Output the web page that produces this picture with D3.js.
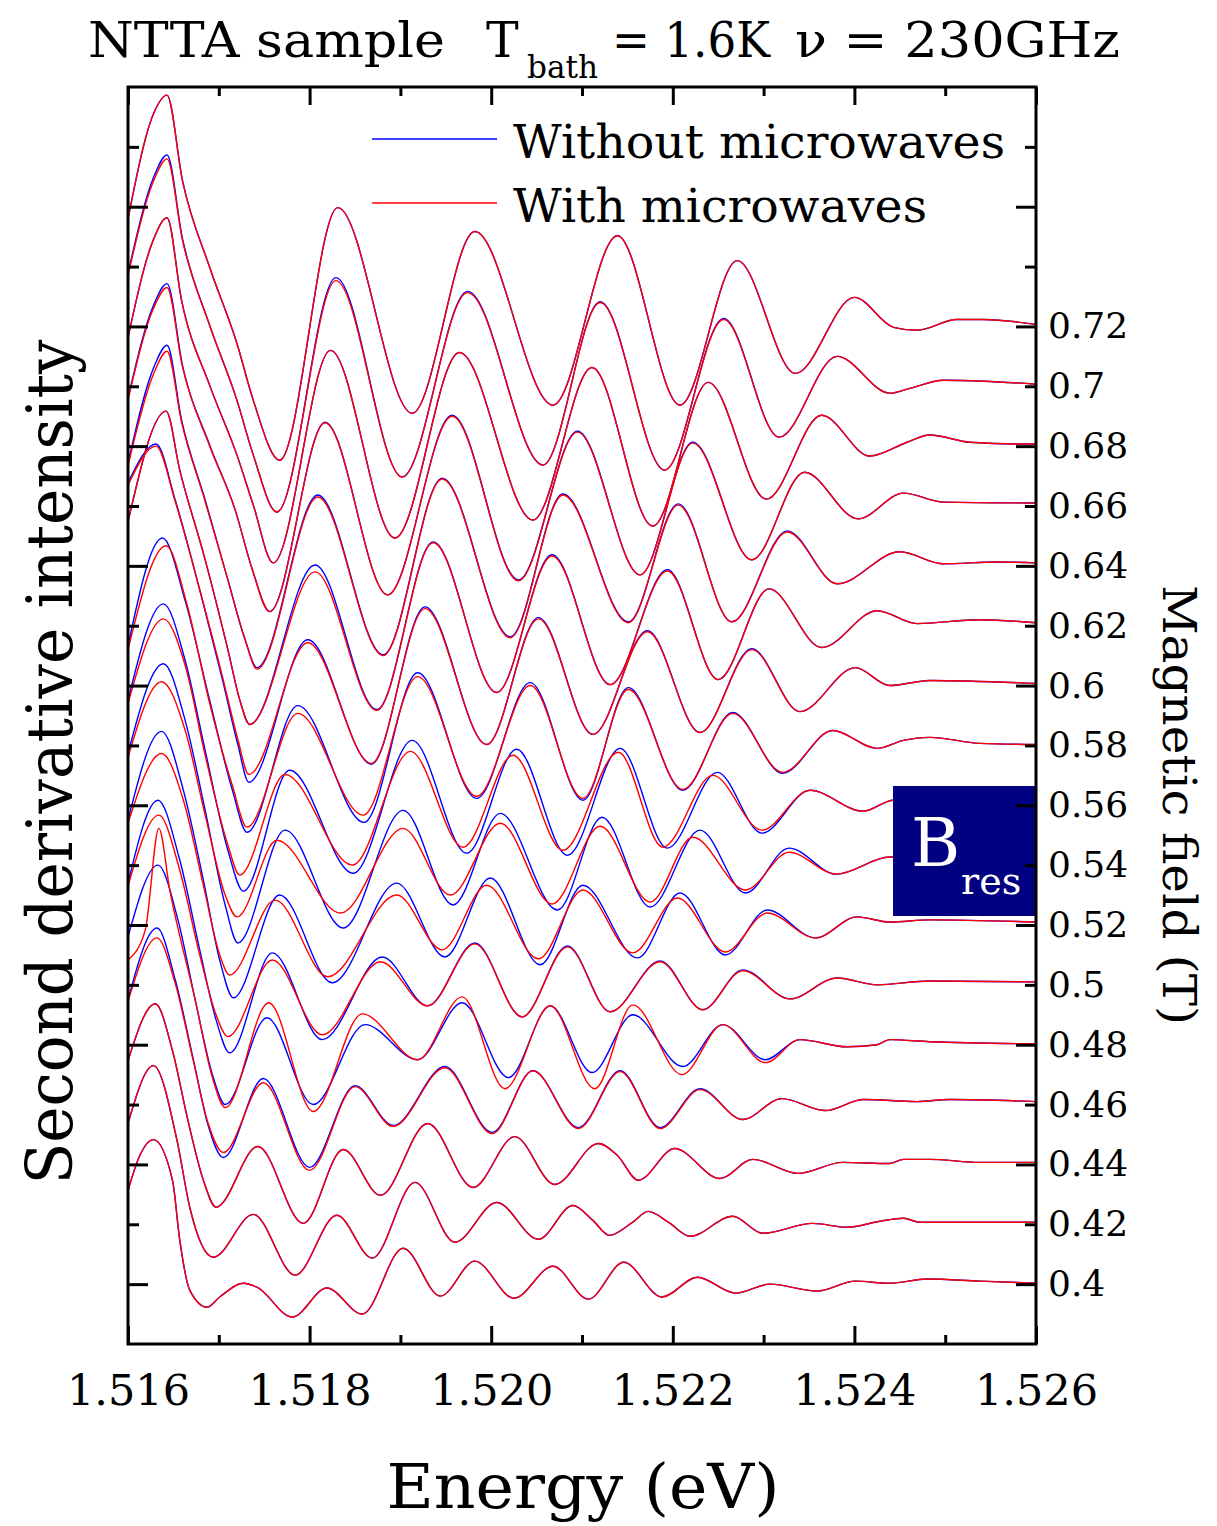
<!DOCTYPE html>
<html>
<head>
<meta charset="utf-8">
<script src="https://cdn.jsdelivr.net/npm/d3@7"></script>
<style>
  html, body { margin: 0; padding: 0; background: #fff; }
  svg { display: block; }
  text { font-family: "DejaVu Serif", "Liberation Serif", serif; fill: #000; }
</style>
</head>
<body>
<svg id="chart" width="1217" height="1526"></svg>
<script>
// ---- axis values ----
const energyMajor = [1.516, 1.518, 1.520, 1.522, 1.524, 1.526];
const energyMinor = [1.517, 1.519, 1.521, 1.523, 1.525];
const fieldMajor = [0.40, 0.44, 0.48, 0.52, 0.56, 0.60, 0.64, 0.68, 0.72, 0.76];
const fieldMinor = [0.42, 0.46, 0.50, 0.54, 0.58, 0.62, 0.66, 0.70, 0.74, 0.78];
const fieldLabelValues = [0.40, 0.42, 0.44, 0.46, 0.48, 0.50, 0.52, 0.54, 0.56, 0.58, 0.60, 0.62, 0.64, 0.66, 0.68, 0.70, 0.72];
const fieldLabels = ["0.4", "0.42", "0.44", "0.46", "0.48", "0.5", "0.52", "0.54", "0.56", "0.58", "0.6", "0.62", "0.64", "0.66", "0.68", "0.7", "0.72"];

// ---- spectra: [energy (eV), second-derivative intensity (a.u.)] ----
// off = without microwaves, on = with microwaves; each spectrum sits at its magnetic field
const off072 = [[1.51600,3.60],[1.51628,7.10],[1.51643,7.73],[1.51660,4.87],[1.51690,1.97],[1.51720,-0.57],[1.51738,-2.47],[1.51767,-4.47],[1.51831,3.97],[1.51913,-2.90],[1.51982,3.17],[1.52068,-2.63],[1.52139,3.03],[1.52208,-2.63],[1.52271,2.20],[1.52335,-1.57],[1.52400,0.97],[1.52443,-0.03],[1.52469,-0.13],[1.52513,0.23],[1.52542,0.23],[1.52600,0.07]];
const on072 = off072;

const off070 = [[1.51600,3.77],[1.51628,6.97],[1.51643,7.73],[1.51660,4.93],[1.51690,2.03],[1.51720,-0.47],[1.51738,-2.30],[1.51764,-4.20],[1.51829,3.63],[1.51902,-3.03],[1.51974,3.17],[1.52057,-2.63],[1.52120,2.83],[1.52191,-2.80],[1.52256,2.27],[1.52317,-1.70],[1.52381,1.00],[1.52439,-0.23],[1.52461,-0.07],[1.52498,0.20],[1.52542,0.17],[1.52600,0.07]];
const on070 = [[1.51600,3.70],[1.51628,6.85],[1.51643,7.60],[1.51660,4.88],[1.51690,2.03],[1.51720,-0.47],[1.51738,-2.30],[1.51764,-4.20],[1.51829,3.53],[1.51902,-3.03],[1.51974,3.13],[1.52057,-2.63],[1.52120,2.80],[1.52191,-2.80],[1.52256,2.23],[1.52317,-1.70],[1.52381,1.00],[1.52439,-0.23],[1.52461,-0.07],[1.52498,0.20],[1.52542,0.17],[1.52600,0.07]];

const off068 = [[1.51600,3.63],[1.51628,6.90],[1.51643,7.63],[1.51659,4.87],[1.51690,2.03],[1.51720,-0.30],[1.51738,-1.97],[1.51760,-3.90],[1.51823,3.20],[1.51894,-3.07],[1.51965,3.13],[1.52046,-2.47],[1.52111,2.63],[1.52178,-2.67],[1.52239,2.13],[1.52303,-1.77],[1.52364,1.03],[1.52417,-0.33],[1.52458,0.13],[1.52483,0.37],[1.52527,0.13],[1.52579,0.07],[1.52600,0.07]];
const on068 = off068;

const off066 = [[1.51600,3.60],[1.51628,6.70],[1.51643,7.43],[1.51660,4.70],[1.51690,2.03],[1.51718,-0.13],[1.51737,-2.13],[1.51756,-3.53],[1.51817,2.80],[1.51886,-2.97],[1.51957,3.03],[1.52030,-2.47],[1.52095,2.50],[1.52164,-2.30],[1.52222,2.13],[1.52287,-1.80],[1.52345,1.13],[1.52404,-0.43],[1.52454,0.43],[1.52498,0.13],[1.52600,0.10]];
const on066 = [[1.51600,3.55],[1.51628,6.60],[1.51643,7.30],[1.51660,4.65],[1.51690,2.00],[1.51718,-0.13],[1.51737,-2.13],[1.51756,-3.53],[1.51817,2.78],[1.51886,-2.97],[1.51957,3.00],[1.52030,-2.50],[1.52095,2.47],[1.52164,-2.30],[1.52222,2.10],[1.52287,-1.80],[1.52345,1.13],[1.52404,-0.43],[1.52454,0.43],[1.52498,0.13],[1.52600,0.10]];

const off064 = [[1.51600,3.43],[1.51628,6.60],[1.51643,7.37],[1.51659,4.87],[1.51685,2.20],[1.51710,-0.47],[1.51729,-2.47],[1.51742,-3.40],[1.51809,2.37],[1.51881,-2.97],[1.51946,2.93],[1.52021,-2.37],[1.52079,2.40],[1.52151,-1.87],[1.52206,2.07],[1.52265,-1.87],[1.52326,1.17],[1.52381,-0.60],[1.52450,0.47],[1.52498,0.07],[1.52557,0.13],[1.52600,0.10]];
const on064 = [[1.51600,3.35],[1.51628,6.40],[1.51643,7.17],[1.51659,4.80],[1.51685,2.15],[1.51710,-0.47],[1.51729,-2.47],[1.51742,-3.45],[1.51809,2.30],[1.51881,-3.00],[1.51946,2.90],[1.52021,-2.40],[1.52079,2.37],[1.52151,-1.90],[1.52206,2.03],[1.52265,-1.87],[1.52326,1.13],[1.52381,-0.60],[1.52450,0.47],[1.52498,0.07],[1.52557,0.13],[1.52600,0.10]];

const off062 = [[1.51600,3.47],[1.51642,7.17],[1.51657,5.20],[1.51685,2.20],[1.51710,-0.80],[1.51723,-2.47],[1.51734,-3.30],[1.51806,2.03],[1.51874,-2.80],[1.51936,2.80],[1.52006,-2.23],[1.52067,2.37],[1.52131,-1.97],[1.52194,1.87],[1.52250,-1.80],[1.52306,1.23],[1.52364,-0.73],[1.52425,0.50],[1.52469,0.07],[1.52538,0.20],[1.52600,0.10]];
const on062 = [[1.51600,3.47],[1.51642,7.17],[1.51657,5.20],[1.51685,2.20],[1.51710,-0.80],[1.51723,-2.47],[1.51734,-3.30],[1.51806,1.80],[1.51874,-2.83],[1.51936,2.77],[1.52006,-2.23],[1.52067,2.33],[1.52131,-1.97],[1.52194,1.83],[1.52250,-1.80],[1.52306,1.23],[1.52364,-0.73],[1.52425,0.50],[1.52469,0.07],[1.52538,0.20],[1.52600,0.10]];

const off060 = [[1.51600,6.77],[1.51631,8.07],[1.51652,6.20],[1.51679,3.20],[1.51704,0.20],[1.51721,-1.97],[1.51733,-3.23],[1.51798,1.53],[1.51868,-2.63],[1.51927,2.63],[1.51995,-1.97],[1.52052,2.27],[1.52112,-1.63],[1.52172,1.83],[1.52230,-1.57],[1.52287,1.23],[1.52340,-0.87],[1.52401,0.60],[1.52439,0.00],[1.52483,0.17],[1.52600,0.07]];
const on060 = [[1.51600,6.70],[1.51631,8.00],[1.51652,6.15],[1.51679,3.20],[1.51704,0.30],[1.51721,-1.80],[1.51733,-2.97],[1.51798,1.43],[1.51868,-2.60],[1.51927,2.57],[1.51995,-1.97],[1.52052,2.23],[1.52112,-1.63],[1.52172,1.80],[1.52230,-1.57],[1.52287,1.20],[1.52340,-0.87],[1.52401,0.60],[1.52439,0.00],[1.52483,0.17],[1.52600,0.07]];

const off058 = [[1.51600,3.33],[1.51638,6.93],[1.51663,4.83],[1.51690,1.50],[1.51715,-1.50],[1.51731,-2.90],[1.51787,1.33],[1.51860,-2.57],[1.51919,2.43],[1.51984,-1.77],[1.52043,2.10],[1.52101,-1.83],[1.52151,1.93],[1.52211,-1.50],[1.52266,1.10],[1.52321,-0.93],[1.52376,0.50],[1.52425,-0.10],[1.52454,0.17],[1.52483,0.27],[1.52538,0.07],[1.52600,0.03]];
const on058 = [[1.51600,3.20],[1.51642,6.67],[1.51665,4.70],[1.51690,1.40],[1.51715,-1.35],[1.51731,-2.73],[1.51787,1.07],[1.51859,-2.33],[1.51919,2.30],[1.51984,-1.70],[1.52043,2.00],[1.52101,-1.77],[1.52151,1.87],[1.52211,-1.47],[1.52266,1.07],[1.52321,-0.90],[1.52376,0.50],[1.52425,-0.10],[1.52454,0.17],[1.52483,0.27],[1.52538,0.07],[1.52600,0.03]];

const off056 = [[1.51600,3.50],[1.51639,6.73],[1.51663,4.83],[1.51685,1.83],[1.51710,-1.50],[1.51727,-2.87],[1.51778,1.17],[1.51848,-2.27],[1.51913,2.17],[1.51973,-1.60],[1.52028,1.87],[1.52084,-1.67],[1.52142,1.90],[1.52194,-1.43],[1.52249,1.10],[1.52298,-0.93],[1.52351,0.50],[1.52410,-0.20],[1.52443,0.17],[1.52505,0.00],[1.52600,0.00]];
const on056 = [[1.51600,3.40],[1.51639,6.23],[1.51663,4.67],[1.51685,1.67],[1.51710,-1.33],[1.51723,-2.33],[1.51773,1.03],[1.51847,-2.00],[1.51911,1.80],[1.51969,-1.40],[1.52024,1.67],[1.52079,-1.50],[1.52140,1.77],[1.52189,-1.40],[1.52244,1.00],[1.52298,-0.83],[1.52351,0.50],[1.52410,-0.20],[1.52443,0.17],[1.52505,0.00],[1.52600,0.00]];

const off054 = [[1.51600,3.73],[1.51639,6.73],[1.51663,4.83],[1.51685,1.83],[1.51707,-1.33],[1.51721,-2.60],[1.51773,1.17],[1.51837,-2.10],[1.51903,1.83],[1.51958,-1.33],[1.52010,1.73],[1.52073,-1.50],[1.52122,1.60],[1.52175,-1.40],[1.52230,1.17],[1.52280,-0.93],[1.52328,0.57],[1.52380,-0.30],[1.52439,0.27],[1.52505,0.00],[1.52600,0.00]];
const on054 = [[1.51600,3.60],[1.51637,6.13],[1.51663,4.50],[1.51685,1.67],[1.51707,-1.00],[1.51720,-1.73],[1.51764,0.83],[1.51834,-1.60],[1.51903,1.23],[1.51955,-1.00],[1.52010,1.40],[1.52067,-1.30],[1.52120,1.30],[1.52175,-1.23],[1.52222,0.93],[1.52280,-0.83],[1.52328,0.43],[1.52380,-0.30],[1.52439,0.27],[1.52505,0.00],[1.52600,0.00]];

const off052 = [[1.51600,3.50],[1.51637,6.47],[1.51661,4.50],[1.51683,1.50],[1.51701,-1.17],[1.51716,-2.43],[1.51767,1.00],[1.51825,-1.93],[1.51896,1.40],[1.51949,-1.07],[1.51999,1.57],[1.52054,-1.33],[1.52101,1.33],[1.52161,-1.10],[1.52208,1.07],[1.52258,-1.00],[1.52304,0.50],[1.52357,-0.43],[1.52403,0.27],[1.52439,0.10],[1.52483,0.17],[1.52600,0.10]];
const on052 = [[1.51600,3.40],[1.51637,5.73],[1.51661,4.17],[1.51683,1.33],[1.51701,-1.00],[1.51712,-1.67],[1.51762,0.83],[1.51820,-1.73],[1.51896,1.00],[1.51946,-0.83],[1.51995,1.33],[1.52052,-1.13],[1.52101,1.17],[1.52156,-0.93],[1.52205,0.90],[1.52258,-0.90],[1.52304,0.40],[1.52357,-0.43],[1.52403,0.27],[1.52439,0.10],[1.52483,0.17],[1.52600,0.10]];

const off050 = [[1.51600,3.40],[1.51633,6.17],[1.51657,4.17],[1.51679,1.17],[1.51697,-1.17],[1.51712,-2.27],[1.51759,1.07],[1.51814,-1.83],[1.51880,0.93],[1.51930,-0.70],[1.51982,1.40],[1.52034,-1.07],[1.52084,1.30],[1.52131,-0.90],[1.52186,0.80],[1.52233,-0.83],[1.52277,0.50],[1.52329,-0.47],[1.52381,0.23],[1.52425,0.00],[1.52483,0.13],[1.52600,0.10]];
const on050 = [[1.51600,3.30],[1.51634,5.67],[1.51657,3.83],[1.51679,1.00],[1.51697,-1.00],[1.51710,-1.73],[1.51759,0.83],[1.51814,-1.67],[1.51878,0.77],[1.51930,-0.70],[1.51982,1.37],[1.52034,-1.07],[1.52084,1.27],[1.52131,-0.90],[1.52186,0.77],[1.52233,-0.83],[1.52277,0.47],[1.52329,-0.47],[1.52381,0.23],[1.52425,0.00],[1.52483,0.13],[1.52600,0.10]];

const off048 = [[1.51600,3.60],[1.51633,6.00],[1.51655,4.17],[1.51674,1.50],[1.51693,-1.00],[1.51707,-2.00],[1.51753,0.90],[1.51804,-2.00],[1.51861,0.67],[1.51919,-0.50],[1.51968,1.40],[1.52019,-1.10],[1.52065,1.30],[1.52111,-0.93],[1.52156,1.00],[1.52211,-0.73],[1.52255,0.67],[1.52302,-0.50],[1.52340,0.17],[1.52392,-0.07],[1.52425,0.00],[1.52439,0.17],[1.52483,0.10],[1.52600,0.03]];
const on048 = [[1.51600,2.83],[1.51619,3.83],[1.51634,7.23],[1.51646,5.17],[1.51674,1.50],[1.51693,-1.10],[1.51707,-2.10],[1.51755,1.40],[1.51804,-2.23],[1.51858,1.03],[1.51919,-0.50],[1.51968,1.60],[1.52015,-1.47],[1.52065,1.30],[1.52114,-1.47],[1.52156,1.33],[1.52210,-1.00],[1.52255,0.67],[1.52302,-0.60],[1.52340,0.17],[1.52392,-0.07],[1.52425,0.00],[1.52439,0.17],[1.52483,0.10],[1.52600,0.03]];

const off046 = [[1.51600,3.50],[1.51632,5.90],[1.51652,4.17],[1.51672,1.50],[1.51688,-0.67],[1.51705,-1.77],[1.51749,0.87],[1.51800,-2.10],[1.51850,0.63],[1.51892,-0.70],[1.51949,1.27],[1.52001,-0.93],[1.52046,1.13],[1.52096,-0.77],[1.52142,1.13],[1.52186,-0.77],[1.52230,0.53],[1.52277,-0.50],[1.52320,0.20],[1.52368,-0.20],[1.52410,0.17],[1.52469,0.10],[1.52505,0.17],[1.52600,0.10]];
const on046 = [[1.51600,3.45],[1.51632,5.57],[1.51652,4.05],[1.51672,1.45],[1.51688,-0.60],[1.51705,-1.60],[1.51749,0.73],[1.51800,-2.20],[1.51850,0.60],[1.51892,-0.73],[1.51949,1.23],[1.52001,-0.97],[1.52046,1.13],[1.52096,-0.80],[1.52142,1.10],[1.52186,-0.80],[1.52230,0.50],[1.52277,-0.50],[1.52320,0.20],[1.52368,-0.20],[1.52410,0.17],[1.52469,0.10],[1.52505,0.17],[1.52600,0.10]];

const off044 = [[1.51600,3.47],[1.51630,5.37],[1.51649,3.80],[1.51666,1.47],[1.51683,-0.53],[1.51697,-1.43],[1.51743,0.60],[1.51793,-1.97],[1.51837,0.50],[1.51878,-1.03],[1.51930,1.37],[1.51980,-0.77],[1.52026,0.93],[1.52070,-0.67],[1.52118,0.70],[1.52139,0.30],[1.52162,-0.53],[1.52202,0.53],[1.52252,-0.47],[1.52288,0.17],[1.52338,-0.30],[1.52387,0.07],[1.52439,0.03],[1.52454,0.17],[1.52483,0.17],[1.52538,0.07],[1.52600,0.07]];
const on044 = off044;

const off042 = [[1.51600,3.37],[1.51628,5.30],[1.51654,2.80],[1.51668,0.57],[1.51694,-1.10],[1.51738,0.33],[1.51784,-1.70],[1.51830,0.30],[1.51869,-1.13],[1.51916,1.40],[1.51960,-0.60],[1.52006,0.73],[1.52052,-0.50],[1.52090,0.63],[1.52112,0.13],[1.52130,-0.37],[1.52156,0.07],[1.52173,0.43],[1.52195,0.07],[1.52219,-0.40],[1.52266,0.27],[1.52299,-0.30],[1.52354,0.03],[1.52392,-0.10],[1.52428,0.10],[1.52454,0.20],[1.52472,0.07],[1.52600,0.07]];
const on042 = off042;

const off040 = [[1.51600,3.13],[1.51613,4.30],[1.51628,4.83],[1.51649,3.47],[1.51657,1.47],[1.51668,-0.20],[1.51687,-0.77],[1.51701,-0.43],[1.51727,0.03],[1.51742,-0.10],[1.51781,-1.10],[1.51819,-0.13],[1.51858,-1.00],[1.51903,1.20],[1.51944,-0.40],[1.51982,0.77],[1.52025,-0.47],[1.52068,0.60],[1.52107,-0.50],[1.52146,0.73],[1.52188,-0.43],[1.52227,0.23],[1.52269,-0.30],[1.52307,0.00],[1.52359,-0.23],[1.52401,0.10],[1.52439,0.03],[1.52480,0.17],[1.52538,0.10],[1.52600,0.03]];
const on040 = off040;

const spectra = [
  { field: 0.40, off: off040, on: on040 },
  { field: 0.42, off: off042, on: on042 },
  { field: 0.44, off: off044, on: on044 },
  { field: 0.46, off: off046, on: on046 },
  { field: 0.48, off: off048, on: on048 },
  { field: 0.50, off: off050, on: on050 },
  { field: 0.52, off: off052, on: on052 },
  { field: 0.54, off: off054, on: on054 },
  { field: 0.56, off: off056, on: on056 },
  { field: 0.58, off: off058, on: on058 },
  { field: 0.60, off: off060, on: on060 },
  { field: 0.62, off: off062, on: on062 },
  { field: 0.64, off: off064, on: on064 },
  { field: 0.66, off: off066, on: on066 },
  { field: 0.68, off: off068, on: on068 },
  { field: 0.70, off: off070, on: on070 },
  { field: 0.72, off: off072, on: on072 }
];

// one intensity unit spans 0.01 T of the stacking axis
const intensityUnit = 0.01;

// ---- layout ----
const plot = { left: 128, right: 1036, top: 87, bottom: 1344 };
const colorOff = "#0000ff", colorOn = "#ff0000";

const svg = d3.select("#chart");

const x = d3.scaleLinear().domain([1.516, 1.526]).range([plot.left, plot.right]);
const y = d3.scaleLinear().domain([0.38, 0.80]).range([plot.bottom, plot.top]);

svg.append("defs").append("clipPath").attr("id", "plotClip")
  .append("rect")
  .attr("x", plot.left).attr("y", plot.top)
  .attr("width", plot.right - plot.left).attr("height", plot.bottom - plot.top);

// ---- spectra ----
const curves = svg.append("g").attr("clip-path", "url(#plotClip)");
function lineFor(field) {
  return d3.line()
    .curve(d3.curveMonotoneX)
    .x(d => x(d[0]))
    .y(d => y(field + d[1] * intensityUnit));
}
curves.append("g").selectAll("path").data(spectra).join("path")
  .attr("d", s => lineFor(s.field)(s.off))
  .attr("fill", "none").attr("stroke", colorOff).attr("stroke-width", 1.4);
curves.append("g").selectAll("path").data(spectra).join("path")
  .attr("d", s => lineFor(s.field)(s.on))
  .attr("fill", "none").attr("stroke", colorOn).attr("stroke-width", 1.4);

// ---- resonance marker ----
const bres = svg.append("g");
bres.append("rect")
  .attr("x", 893).attr("y", 786).attr("width", plot.right - 893).attr("height", 130)
  .attr("fill", "#000080");
bres.append("text").attr("x", 911).attr("y", 866)
  .attr("font-size", 67).style("fill", "#fff").text("B");
bres.append("text").attr("x", 961).attr("y", 894)
  .attr("font-size", 38).style("fill", "#fff").text("res");

// ---- axes (ticks point inward) ----
function styleAxis(g) {
  g.select(".domain").remove();
  g.selectAll(".tick line").attr("stroke", "#000").attr("stroke-width", 3);
}
function noLabels(g) { g.selectAll(".tick text").remove(); }

// bottom
svg.append("g").attr("transform", `translate(0,${plot.bottom})`)
  .call(d3.axisBottom(x).tickValues(energyMajor).tickSize(-18).tickFormat(""))
  .call(styleAxis).call(noLabels);
svg.append("g").attr("transform", `translate(0,${plot.bottom})`)
  .call(d3.axisBottom(x).tickValues(energyMinor).tickSize(-9).tickFormat(""))
  .call(styleAxis).call(noLabels);
svg.append("g").attr("transform", `translate(0,${plot.bottom})`)
  .call(d3.axisBottom(x).tickValues(energyMajor).tickSize(0).tickPadding(30).tickFormat(d3.format(".3f")))
  .call(g => g.select(".domain").remove())
  .call(g => g.selectAll(".tick text").attr("font-size", 43).style("font-family", '"DejaVu Serif", serif'));

// top
svg.append("g").attr("transform", `translate(0,${plot.top})`)
  .call(d3.axisTop(x).tickValues(energyMajor).tickSize(-18).tickFormat(""))
  .call(styleAxis).call(noLabels);
svg.append("g").attr("transform", `translate(0,${plot.top})`)
  .call(d3.axisTop(x).tickValues(energyMinor).tickSize(-9).tickFormat(""))
  .call(styleAxis).call(noLabels);

// left
svg.append("g").attr("transform", `translate(${plot.left},0)`)
  .call(d3.axisLeft(y).tickValues(fieldMajor).tickSize(-20).tickFormat(""))
  .call(styleAxis).call(noLabels);
svg.append("g").attr("transform", `translate(${plot.left},0)`)
  .call(d3.axisLeft(y).tickValues(fieldMinor).tickSize(-11).tickFormat(""))
  .call(styleAxis).call(noLabels);

// right
svg.append("g").attr("transform", `translate(${plot.right},0)`)
  .call(d3.axisRight(y).tickValues(fieldMajor).tickSize(-20).tickFormat(""))
  .call(styleAxis).call(noLabels);
svg.append("g").attr("transform", `translate(${plot.right},0)`)
  .call(d3.axisRight(y).tickValues(fieldMinor).tickSize(-11).tickFormat(""))
  .call(styleAxis).call(noLabels);
svg.append("g").attr("transform", `translate(${plot.right},0)`)
  .call(d3.axisRight(y).tickValues(fieldLabelValues).tickSize(0).tickPadding(12)
    .tickFormat((d, i) => fieldLabels[i]))
  .call(g => g.select(".domain").remove())
  .call(g => g.selectAll(".tick text").attr("font-size", 36).style("font-family", '"DejaVu Serif", serif'));

// frame
svg.append("rect")
  .attr("x", plot.left).attr("y", plot.top)
  .attr("width", plot.right - plot.left).attr("height", plot.bottom - plot.top)
  .attr("fill", "none").attr("stroke", "#000").attr("stroke-width", 3);

// ---- legend ----
const legend = svg.append("g");
const legendItems = [
  { label: "Without microwaves", color: colorOff, y: 139, len: 492 },
  { label: "With microwaves", color: colorOn, y: 203, len: 414 }
];
legendItems.forEach(it => {
  legend.append("line").attr("x1", 372).attr("x2", 497).attr("y1", it.y).attr("y2", it.y)
    .attr("stroke", it.color).attr("stroke-width", 1.4);
  legend.append("text").attr("x", 513).attr("y", it.y + 19)
    .attr("font-size", 46).attr("textLength", it.len).attr("lengthAdjust", "spacingAndGlyphs")
    .text(it.label);
});

// ---- titles ----
const title = svg.append("g");
title.append("text").attr("x", 88).attr("y", 57).attr("font-size", 49)
  .attr("textLength", 357).attr("lengthAdjust", "spacingAndGlyphs").text("NTTA sample");
title.append("text").attr("x", 486).attr("y", 57).attr("font-size", 49).text("T");
title.append("text").attr("x", 527).attr("y", 78).attr("font-size", 32)
  .attr("textLength", 71).attr("lengthAdjust", "spacingAndGlyphs").text("bath");
title.append("text").attr("x", 612).attr("y", 57).attr("font-size", 49)
  .attr("textLength", 158).attr("lengthAdjust", "spacingAndGlyphs").text("= 1.6K");
title.append("text").attr("x", 795).attr("y", 57).attr("font-size", 49)
  .attr("textLength", 325).attr("lengthAdjust", "spacingAndGlyphs").text("ν = 230GHz");

svg.append("text").attr("x", 583).attr("y", 1508).attr("text-anchor", "middle")
  .attr("font-size", 62).attr("textLength", 393).attr("lengthAdjust", "spacingAndGlyphs")
  .text("Energy (eV)");

svg.append("text").attr("transform", "translate(72,762) rotate(-90)")
  .attr("text-anchor", "middle").attr("font-size", 64)
  .attr("textLength", 845).attr("lengthAdjust", "spacingAndGlyphs")
  .text("Second derivative intensity");

svg.append("text").attr("transform", "translate(1163,805) rotate(90)")
  .attr("text-anchor", "middle").attr("font-size", 47)
  .attr("textLength", 440).attr("lengthAdjust", "spacingAndGlyphs")
  .text("Magnetic field (T)");
</script>
</body>
</html>
